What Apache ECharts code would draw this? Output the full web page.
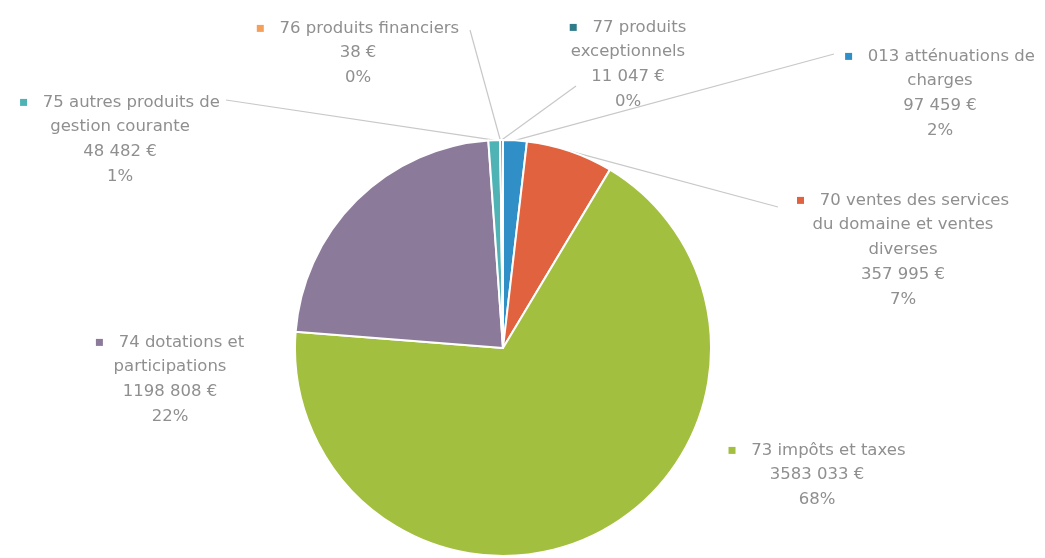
<!DOCTYPE html>
<html>
<head>
<meta charset="utf-8">
<script src="https://cdn.jsdelivr.net/npm/echarts@6/dist/echarts.min.js"></script>
<style>
  html, body { margin: 0; padding: 0; background: #fff; }
  #chart { width: 1045px; height: 558px; }
</style>
</head>
<body>
<div id="chart"></div>
<script>
// postes de recettes, dans l'ordre du graphique (sens horaire depuis midi)
const categories = [
  '013 atténuations de\ncharges',
  '70 ventes des services\ndu domaine et ventes\ndiverses',
  '73 impôts et taxes',
  '74 dotations et\nparticipations',
  '75 autres produits de\ngestion courante',
  '76 produits financiers',
  '77 produits\nexceptionnels'
];
const amounts = [97459, 357995, 3583033, 1198808, 48482, 38, 11047];
const percentLabels = [2, 7, 68, 22, 1, 0, 0];
const colors = ['#2f8fc6', '#e0623e', '#a3bf3f', '#8c7a9b', '#4fb3b6', '#f5a05a', '#2e7c8a'];

// emplacement des étiquettes (centre, haut du bloc) et fin des traits de rappel
const labelPos = [
  [940, 44], [903, 188], [817, 438], [170, 330], [120, 90], [358, 16], [628, 15]
];
const lineEnd = [[834, 54], [778, 207], null, null, [226, 100], [470, 30], [576, 86]];

function fmtEuro(v) {
  const s = String(v);
  return (s.length > 3 ? s.slice(0, -3) + ' ' + s.slice(-3) : s) + ' €';
}

const chart = echarts.init(document.getElementById('chart'));

chart.setOption({
  backgroundColor: '#fff',
  animation: false,
  series: [{
    type: 'pie',
    center: [503, 348],
    radius: 208,
    startAngle: 90,
    clockwise: true,
    avoidLabelOverlap: false,
    itemStyle: { borderColor: '#fff', borderWidth: 2 },
    label: {
      show: true,
      position: 'outside',
      fontFamily: 'DejaVu Sans',
      fontSize: 16.5,
      lineHeight: 24.8,
      color: '#8f8f8f',
      align: 'center',
      formatter: p => '{m|}   ' + p.name + '\n' + fmtEuro(p.value) + '\n' + percentLabels[p.dataIndex] + '%',
      rich: {}
    },
    labelLine: {
      show: true,
      length: 0,
      length2: 0,
      lineStyle: { color: '#c8c8c8', width: 1.2 }
    },
    labelLayout: p => {
      const i = p.dataIndex;
      const out = {
        x: labelPos[i][0],
        y: labelPos[i][1],
        align: 'center',
        verticalAlign: 'top'
      };
      if (lineEnd[i] && p.labelLinePoints) {
        out.labelLinePoints = [p.labelLinePoints[0], lineEnd[i]];
      }
      return out;
    },
    data: categories.map((name, i) => ({
      name: name,
      value: amounts[i],
      itemStyle: { color: colors[i] },
      labelLine: { show: lineEnd[i] != null },
      label: {
        rich: {
          m: { width: 7, height: 7, backgroundColor: colors[i] }
        }
      }
    }))
  }]
});
</script>
</body>
</html>
